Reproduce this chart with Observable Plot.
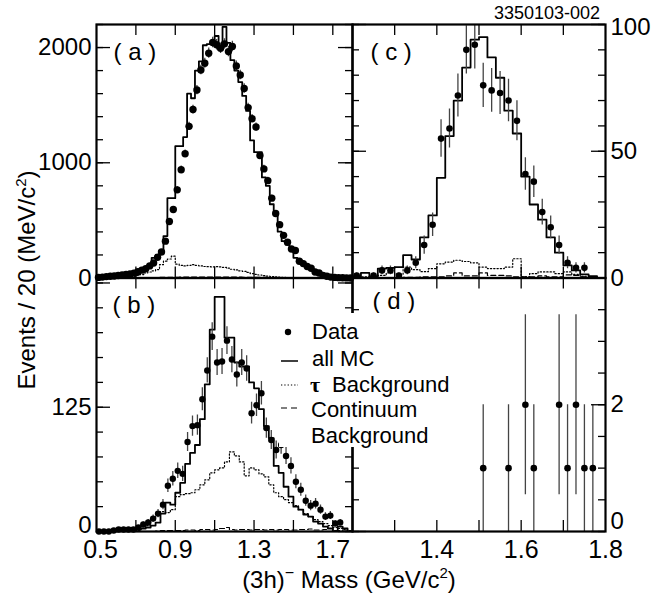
<!DOCTYPE html>
<html><head><meta charset="utf-8">
<script src="https://cdn.jsdelivr.net/npm/d3@7"></script>
<script src="https://cdn.jsdelivr.net/npm/@observablehq/plot@0.6"></script>
<style>
html,body{margin:0;padding:0;background:#fff;}
#wrap{position:relative;width:655px;height:595px;overflow:hidden;font-family:"Liberation Sans",Arial,Helvetica,sans-serif;}
#wrap svg{position:absolute;left:0;top:0;}
</style></head><body><div id="wrap"></div>
<script>
// ---------- DATA ----------
// Panel (a): 20 MeV bins from 0.5 to 1.8 GeV
const dataA = [5,8,12,15,18,22,26,30,35,42,
 55,68,80,105,130,180,225,320,490,595,
 765,940,1078,1316,1462,1631,1805,1864,1951,2044,
 2024,1994,2032,1965,2009,1840,1762,1645,1479,1383,
 1310,1063,947,845,693,560,463,370,310,252,
 239,146,125,100,85,52,44,23,15,8,
 5,3,2,1,0];
const errA = [2,3,3,4,4,5,5,5,6,6,
 7,8,9,10,11,13,15,18,22,24,
 28,31,33,36,38,40,42,43,44,45,
 45,45,45,44,45,43,42,41,38,37,
 36,33,31,29,26,24,22,19,18,16,
 15,12,11,10,9,7,7,5,4,3,
 2,2,1,1,0];
const mcA = [4,6,9,12,15,18,22,27,33,40,
 50,60,75,100,175,180,230,364,693,693,
 1144,1144,1223,1600,1560,1800,1880,2020,2030,2030,
 2100,1980,2180,2040,1890,1800,1700,1580,1450,1194,
 1092,1092,873,800,640,568,402,320,290,262,
 175,160,120,100,80,60,45,30,18,10,
 6,4,2,1,0];
const tauA = [1,1,2,2,2,3,3,5,9,15,
 22,30,44,52,62,73,116,146,165,189,
 120,110,105,110,116,110,105,100,98,96,
 98,96,92,85,76,70,62,58,48,38,
 32,26,20,16,12,9,7,5,4,3,
 3,2,2,1,1,1,1,1,0,0,
 0,0,0,0,0];
const contA = [0,0,0,0,0,1,1,1,2,2,
 2,3,3,3,4,4,5,5,6,6,
 6,7,7,7,8,8,8,8,8,8,
 8,8,8,8,7,7,7,6,6,6,
 5,5,5,4,4,4,3,3,3,2,
 2,2,2,1,1,1,1,1,1,0,
 0,0,0,0,0];

// Panel (b): 25 MeV bins from 0.5 to 1.8 GeV
const dataB = [0,0,0,1,2,2,2,2,4,7,
 9,13,18,27,46,53,61,58,90,106,
 107,133,162,196,170,171,192,173,158,170,
 164,119,127,139,104,92,82,87,76,66,
 50,42,31,26,28,22,15,16,8,9,
 null,null];
const errB = [0,0,0,1,1.4,1.4,1.4,1.4,2,2.6,
 3,3.6,4.2,5.2,6.8,7.3,7.8,7.6,9.5,10.3,
 10.3,11.5,12.7,14,13,13.1,13.9,13.2,12.6,13,
 12.8,10.9,11.3,11.8,10.2,9.6,9.1,9.3,8.7,8.1,
 7.1,6.5,5.6,5.1,5.3,4.7,3.9,4,2.8,3,
 null,null];
const mcB = [0,0,0,0,1,1,1,2,2,3,
 4,6,9,18,29,27,39,49,68,79,
 87,113,148,203,236,236,195,195,170,166,
 166,150,144,123,106,94,66,59,45,35,
 25,22,17,15,10,8,5,3,0,5,
 3,0];
const tauB = [0,0,0,0,0,0,1,1,1,3,
 6,12,17,20,19,22,35,37,38,39,
 42,47,52,59,62,64,70,80,76,70,
 56,64,62,58,55,47,39,35,32,29,
 26,22,18,15,12,10,8,6,4,3,
 2,1];
const contB = [0,0,0,0,0,0,0,0,0,0,
 0,0,0.5,1,1,1,1,1,1.5,1.5,
 1,2,2,1.5,2,3,4,2,1.5,2,
 2,1.5,2,2,1.5,2,1.5,2,2,1.5,
 1.5,2,2,2.5,1.5,1.5,2,3,1,1,
 0.5,0];

// Panel (c): 20 MeV bins from 1.2 to 1.8 GeV
const dataC = [1,null,1,3,3,1,3,6,13,21,
 55,59,72,90,92,76,74,73,70,62,
 41,38,26,20,13,6,4,4,null,null];
const errC = [1,null,1,1.7,1.7,1,1.7,2.4,3.6,4.6,
 7.4,7.7,8.5,9.5,9.6,8.7,8.6,8.5,8.4,7.9,
 6.4,6.2,5.1,4.5,3.6,2.4,2,2,null,null];
const mcC = [0.5,2,0.6,3.7,4,4.3,9,7.3,16,24.7,
 39.5,56,70,83,94,95,87,79,66,57,
 40,29,23,16,10,5,3,1.4,0.7,0];
const tauC = [0.3,0.5,0.5,1,2,1.5,4.3,3.3,2.5,3.7,
 5.6,6.3,7,6.5,6,4.3,3.7,3.7,4.3,7.6,
 0.5,1.7,2.4,2.4,1.7,2.4,1.4,0.7,0.3,0];
const contC = [0,0,0,0,0,0,0.3,0.3,0.5,0.5,
 0.5,0.8,2,0.8,0.8,2,1,1,0.8,0.5,
 0.5,0.5,0.8,0.5,0.5,1.2,1,0.5,0.3,0];

// Panel (d): individual events
const massD = [1.51,1.57,1.61,1.63,1.69,1.71,1.73,1.75,1.77];
const countD = [1,1,2,1,2,1,2,1,1];
const errD = [1,1,1.42,1,1.42,1,1.42,1,1];

// Ticks and labels
const xTicksAB = [0.7,0.9,1.1,1.3,1.5,1.7];
const xLabAB = [0.9,1.3,1.7];
const xLabFirst = [0.5];
const xTicksCD = [1.3,1.4,1.5,1.6,1.7];
const xLabCD = [1.4,1.6,1.8];
const yMinorA = [0,200,400,600,800,1000,1200,1400,1600,1800,2000,2200];
const yMajorA = [0,1000,2000];
const yMinorB = [0,25,50,75,100,125,150,175,200,225,250];
const yMajorB = [0,125,250];
const yMinorC = [0,10,20,30,40,50,60,70,80,90,100];
const yMajorC = [0,50,100];
const yMinorD = [0,0.5,1,1.5,2,2.5,3,3.5,4];
const yMajorD = [0,2,4];

// ---------- DRAWING ----------
const W = 655, H = 595;
const FONT = '"Liberation Sans", Arial, Helvetica, sans-serif';
const wrap = document.getElementById("wrap");

function histLine(start, width, vals, opts) {
  const pts = vals.map((v, i) => ({x: start + width * i, y: v}));
  pts.push({x: start + width * vals.length, y: vals[vals.length - 1]});
  return Plot.line(pts, {x: "x", y: "y", curve: "step-after", clip: true, ...opts});
}
function dataPts(start, width, vals, errs) {
  return vals.map((v, i) => ({x: start + width * (i + 0.5), y: v, e: errs[i]})).filter(d => d.y != null);
}
const tauStyle = {stroke: "#000", strokeWidth: 1.2, strokeDasharray: "1.3,2"};
const contStyle = {stroke: "#000", strokeWidth: 1.2, strokeDasharray: "5,3"};
const mcStyle = {stroke: "#000", strokeWidth: 1.8};
function errMarks(pts, r) {
  return [
    Plot.ruleX(pts, {x: "x", y1: d => Math.max(0, d.y - d.e), y2: d => d.y + d.e, stroke: "#444", strokeWidth: 1.3, clip: true}),
    Plot.dot(pts, {x: "x", y: "y", r: r, fill: "#000", stroke: "none"})
  ];
}

function panel(p) {
  const fw = p.right - p.left, fh = p.bottom - p.top;
  const tk = {stroke: "#000", strokeWidth: 1.3};
  const marks = [
    ...p.marks,
    Plot.tickY(p.yMinor, {y: d => d, insetRight: fw - 7, ...tk}),
    Plot.tickY(p.yMinor, {y: d => d, insetLeft: fw - 7, ...tk}),
    Plot.tickY(p.yMajor, {y: d => d, insetRight: fw - 14, ...tk}),
    Plot.tickY(p.yMajor, {y: d => d, insetLeft: fw - 14, ...tk}),
    Plot.tickX(p.xTicks, {x: d => d, insetBottom: fh - 11, ...tk}),
    Plot.tickX(p.xTicks, {x: d => d, insetTop: fh - 11, ...tk}),
    Plot.frame({stroke: "#000", strokeWidth: 2.2}),
    ...p.labels
  ];
  const svg = Plot.plot({
    width: W, height: H,
    marginLeft: p.left, marginRight: W - p.right, marginTop: p.top, marginBottom: H - p.bottom,
    x: {domain: p.xd, axis: null},
    y: {domain: p.yd, axis: null},
    style: {background: "transparent", fontFamily: FONT, overflow: "visible"},
    marks
  });
  wrap.appendChild(svg);
}

const ptsA = dataPts(0.5, 0.02, dataA, errA);
const ptsB = dataPts(0.5, 0.025, dataB, errB);
const ptsC = dataPts(1.2, 0.02, dataC, errC);
const ptsD = massD.map((m, i) => ({x: m, y: countD[i], e: errD[i]}));

// (a)
panel({
  left: 96, right: 352, top: 24, bottom: 277.5, xd: [0.5, 1.8], yd: [0, 2200],
  yMinor: yMinorA, yMajor: yMajorA, xTicks: xTicksAB,
  marks: [
    histLine(0.5, 0.02, tauA, tauStyle),
    histLine(0.5, 0.02, contA, contStyle),
    histLine(0.5, 0.02, mcA, mcStyle),
    ...errMarks(ptsA, 3.7)
  ],
  labels: [
    Plot.text([2000, 1000], {y: d => d, text: d => String(d), frameAnchor: "left", textAnchor: "end", dx: -5, fontSize: 24}),
    Plot.text([0], {y: d => d, text: d => String(d), frameAnchor: "left", textAnchor: "end", dx: -5, fontSize: 24}),
    Plot.text(["( a )"], {frameAnchor: "top-left", dx: 17, dy: 18, fontSize: 24})
  ]
});
// (c)
panel({
  left: 352, right: 605, top: 24, bottom: 277.5, xd: [1.2, 1.8], yd: [0, 100],
  yMinor: yMinorC, yMajor: yMajorC, xTicks: xTicksCD,
  marks: [
    histLine(1.2, 0.02, tauC, tauStyle),
    histLine(1.2, 0.02, contC, contStyle),
    histLine(1.2, 0.02, mcC, mcStyle),
    ...errMarks(ptsC, 3.3)
  ],
  labels: [
    Plot.text([100], {y: d => d, text: d => String(d), frameAnchor: "right", textAnchor: "start", dx: 5, dy: 3, fontSize: 24}),
    Plot.text([50, 0], {y: d => d, text: d => String(d), frameAnchor: "right", textAnchor: "start", dx: 5, fontSize: 24}),
    Plot.text(["( c )"], {frameAnchor: "top-left", dx: 18, dy: 18, fontSize: 24})
  ]
});
// (b)
panel({
  left: 96, right: 352, top: 277.5, bottom: 531, xd: [0.5, 1.8], yd: [0, 255],
  yMinor: yMinorB, yMajor: yMajorB, xTicks: xTicksAB,
  marks: [
    histLine(0.5, 0.025, tauB, tauStyle),
    histLine(0.5, 0.025, contB, contStyle),
    histLine(0.5, 0.025, mcB, mcStyle),
    ...errMarks(ptsB, 3.2)
  ],
  labels: [
    Plot.text([125], {y: d => d, text: d => String(d), frameAnchor: "left", textAnchor: "end", dx: -5, fontSize: 24}),
    Plot.text([0], {y: d => d, text: d => String(d), frameAnchor: "left", textAnchor: "end", dx: -5, dy: -6, fontSize: 24}),
    Plot.text(xLabAB, {x: d => d, text: d => d.toFixed(1), frameAnchor: "bottom", lineAnchor: "top", dy: 9, fontSize: 25}),
    Plot.text(xLabFirst, {x: d => d, text: d => d.toFixed(1), frameAnchor: "bottom", lineAnchor: "top", dy: 9, dx: 4, fontSize: 25}),
    Plot.text(["( b )"], {frameAnchor: "top-left", dx: 16, dy: 17.5, fontSize: 24})
  ]
});
// (d)
panel({
  left: 352, right: 605, top: 277.5, bottom: 531, xd: [1.2, 1.8], yd: [0, 4],
  yMinor: yMinorD, yMajor: yMajorD, xTicks: xTicksCD,
  marks: [
    ...errMarks(ptsD, 3.3)
  ],
  labels: [
    Plot.text([2], {y: d => d, text: d => String(d), frameAnchor: "right", textAnchor: "start", dx: 5, fontSize: 24}),
    Plot.text([0], {y: d => d, text: d => String(d), frameAnchor: "right", textAnchor: "start", dx: 5, dy: -10, fontSize: 24}),
    Plot.text(xLabCD, {x: d => d, text: d => d.toFixed(1), frameAnchor: "bottom", lineAnchor: "top", dy: 9, fontSize: 25}),
    Plot.text(["( d )"], {frameAnchor: "top-left", dx: 20, dy: 13.5, fontSize: 24})
  ]
});

// ---------- Overlay: legend and titles ----------
const ov = d3.create("svg").attr("width", W).attr("height", H)
  .style("font-family", FONT).style("overflow", "visible");
ov.append("rect").attr("x", 279).attr("y", 313).attr("width", 200).attr("height", 134).attr("fill", "#fff");
const lg = ov.append("g").attr("font-size", 22).attr("fill", "#000");
lg.append("circle").attr("cx", 288).attr("cy", 332).attr("r", 3.2).attr("fill", "#000");
lg.append("text").attr("x", 312).attr("y", 339).text("Data");
lg.append("line").attr("x1", 281).attr("x2", 298).attr("y1", 361).attr("y2", 361).attr("stroke", "#000").attr("stroke-width", 1.5);
lg.append("text").attr("x", 312).attr("y", 366).text("all MC");
lg.append("line").attr("x1", 281).attr("x2", 298).attr("y1", 385).attr("y2", 385).attr("stroke", "#000").attr("stroke-width", 1.2).attr("stroke-dasharray", "1.3,2");
lg.append("text").attr("x", 310).attr("y", 392).attr("font-family", '"Liberation Serif","DejaVu Serif",serif').attr("font-weight", "bold").text("τ");
lg.append("text").attr("x", 332).attr("y", 392).text("Background");
lg.append("line").attr("x1", 281).attr("x2", 298).attr("y1", 408).attr("y2", 408).attr("stroke", "#000").attr("stroke-width", 1.2).attr("stroke-dasharray", "6,4");
lg.append("text").attr("x", 311).attr("y", 417).text("Continuum");
lg.append("text").attr("x", 311).attr("y", 443).text("Background");

// y title
const yt = ov.append("text").attr("transform", "translate(35,280) rotate(-90)")
  .attr("text-anchor", "middle").attr("font-size", 24);
yt.append("tspan").text("Events / 20 (MeV/c");
yt.append("tspan").attr("dy", -9).attr("font-size", 15).text("2");
yt.append("tspan").attr("dy", 9).text(")");
// x title
const xt = ov.append("text").attr("x", 349).attr("y", 588).attr("text-anchor", "middle").attr("font-size", 24);
xt.append("tspan").text("(3h)");
xt.append("tspan").attr("dy", -10).attr("font-size", 16).text("\u2212");
xt.append("tspan").attr("dy", 10).text(" Mass (GeV/c");
xt.append("tspan").attr("dy", -10).attr("font-size", 15).text("2");
xt.append("tspan").attr("dy", 10).text(")");
// code label
ov.append("text").attr("x", 600).attr("y", 19).attr("text-anchor", "end").attr("font-size", 18).text("3350103-002");

wrap.appendChild(ov.node());
</script>
</body></html>
